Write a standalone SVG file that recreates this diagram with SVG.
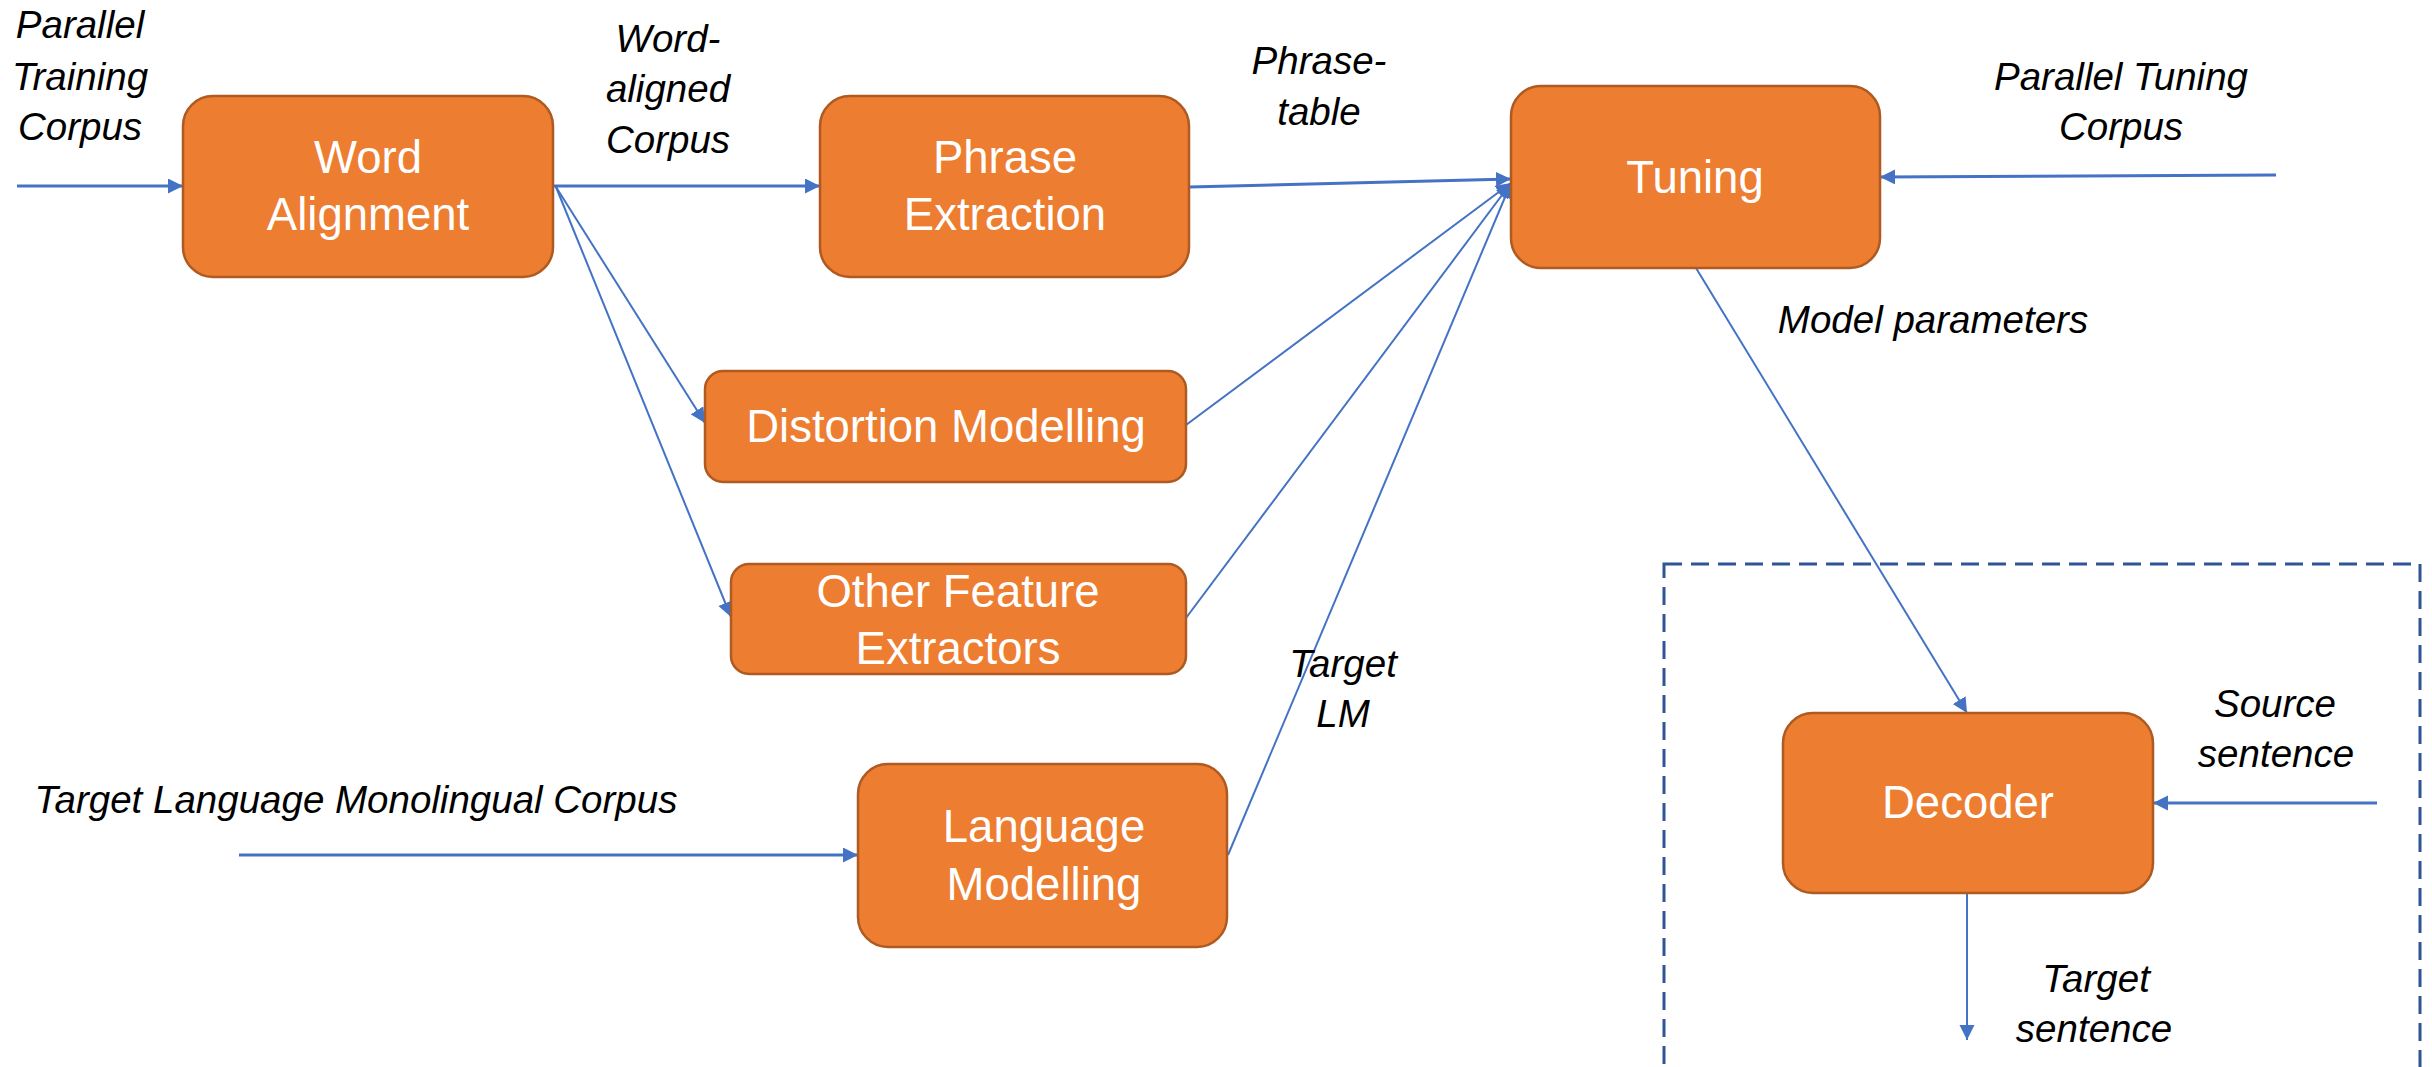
<svg xmlns="http://www.w3.org/2000/svg" width="2432" height="1067" viewBox="0 0 2432 1067">
<style>
.node rect{fill:#ED7D31;stroke:#AE5A21;stroke-width:2.5}
.nt{font-family:"Liberation Sans",Arial,sans-serif;font-size:45.5px;fill:#ffffff;text-anchor:middle}
.lb{font-family:"Liberation Sans",Arial,sans-serif;font-size:38.5px;font-style:italic;fill:#000000;text-anchor:middle}
.c{stroke:#4472C4;fill:none}
.h{stroke-width:3}
.d{stroke-width:2}
</style>
<defs>
<marker id="ah" markerUnits="userSpaceOnUse" markerWidth="16" markerHeight="16" refX="15" refY="7.5" orient="auto">
<path d="M0,0 L15,7.5 L0,15 z" fill="#4472C4"/>
</marker>
</defs>
<rect id="decoder-region" x="1664" y="564" width="756" height="520" fill="none" stroke="#2F5597" stroke-width="3" stroke-dasharray="18 9"/>
<g id="connectors">
<line class="c h" x1="17" y1="186" x2="183" y2="186" marker-end="url(#ah)"/>
<line class="c h" x1="554" y1="186" x2="820" y2="186" marker-end="url(#ah)"/>
<line class="c d" x1="556" y1="187" x2="705" y2="423" marker-end="url(#ah)"/>
<line class="c d" x1="556" y1="187" x2="731" y2="617" marker-end="url(#ah)"/>
<line class="c h" x1="1189" y1="187" x2="1511" y2="179" marker-end="url(#ah)"/>
<line class="c d" x1="1186" y1="425" x2="1511" y2="183" marker-end="url(#ah)"/>
<line class="c d" x1="1186" y1="618" x2="1511" y2="183" marker-end="url(#ah)"/>
<line class="c d" x1="1228" y1="855" x2="1511" y2="183" marker-end="url(#ah)"/>
<line class="c h" x1="2276" y1="175" x2="1880" y2="177" marker-end="url(#ah)"/>
<line class="c h" x1="239" y1="855" x2="858" y2="855" marker-end="url(#ah)"/>
<line class="c d" x1="1696" y1="268" x2="1967" y2="713" marker-end="url(#ah)"/>
<line class="c h" x1="2377" y1="803" x2="2153" y2="803" marker-end="url(#ah)"/>
<line class="c d" x1="1967" y1="893" x2="1967" y2="1040" marker-end="url(#ah)"/>
</g>
<g id="word-alignment" class="node">
<rect x="183" y="96" width="370" height="181" rx="30"/>
<text class="nt" x="368" y="173">Word</text>
<text class="nt" x="368" y="230">Alignment</text>
</g>
<g id="phrase-extraction" class="node">
<rect x="820" y="96" width="369" height="181" rx="30"/>
<text class="nt" x="1005" y="173">Phrase</text>
<text class="nt" x="1005" y="230">Extraction</text>
</g>
<g id="tuning" class="node">
<rect x="1511" y="86" width="369" height="182" rx="30"/>
<text class="nt" x="1695" y="193">Tuning</text>
</g>
<g id="distortion-modelling" class="node">
<rect x="705" y="371" width="481" height="111" rx="18"/>
<text class="nt" x="946" y="442">Distortion Modelling</text>
</g>
<g id="other-feature-extractors" class="node">
<rect x="731" y="564" width="455" height="110" rx="18"/>
<text class="nt" x="958" y="607">Other Feature</text>
<text class="nt" x="958" y="664">Extractors</text>
</g>
<g id="language-modelling" class="node">
<rect x="858" y="764" width="369" height="183" rx="30"/>
<text class="nt" x="1044" y="842">Language</text>
<text class="nt" x="1044" y="900">Modelling</text>
</g>
<g id="decoder" class="node">
<rect x="1783" y="713" width="370" height="180" rx="30"/>
<text class="nt" x="1968" y="818">Decoder</text>
</g>
<g id="labels">
<text class="lb" x="80" y="38">Parallel</text>
<text class="lb" x="80" y="90">Training</text>
<text class="lb" x="80" y="140">Corpus</text>
<text class="lb" x="668" y="52">Word-</text>
<text class="lb" x="668" y="102">aligned</text>
<text class="lb" x="668" y="153">Corpus</text>
<text class="lb" x="1319" y="74">Phrase-</text>
<text class="lb" x="1319" y="125">table</text>
<text class="lb" x="2121" y="90">Parallel Tuning</text>
<text class="lb" x="2121" y="140">Corpus</text>
<text class="lb" x="1933" y="333">Model parameters</text>
<text class="lb" x="1343" y="677">Target</text>
<text class="lb" x="1343" y="727">LM</text>
<text class="lb" x="356" y="813">Target Language Monolingual Corpus</text>
<text class="lb" x="2275" y="717">Source</text>
<text class="lb" x="2276" y="767">sentence</text>
<text class="lb" x="2096" y="992">Target</text>
<text class="lb" x="2094" y="1042">sentence</text>
</g>
</svg>
